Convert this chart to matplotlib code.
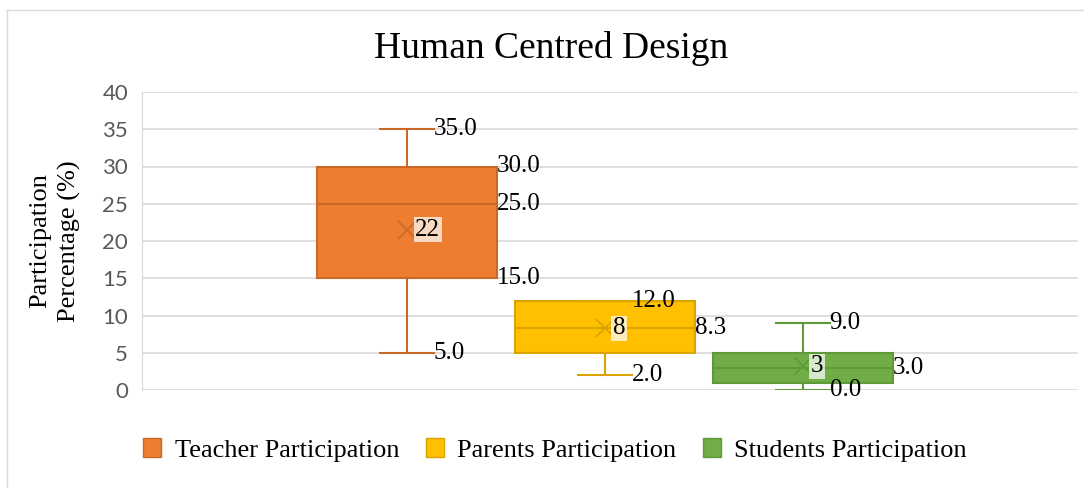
import matplotlib.pyplot as plt
from matplotlib.patches import Patch
from matplotlib.lines import Line2D

# box & whisker stats
groups = ['Teacher Participation', 'Parents Participation', 'Students Participation']
mins = [5.0, 2.0, 0.0]
q1s = [15.0, 5.0, 1.0]
medians = [25.0, 8.3, 3.0]
q3s = [30.0, 12.0, 5.0]
maxs = [35.0, 12.0, 9.0]
means = [21.5, 8.3, 3.2]
mean_labels = ['22', '8', '3']

face = ['#ED7D31', '#FFC000', '#70AD47']
edge = ['#C8692A', '#D9A300', '#5E9A3A']
label_bg = ['#FBE5D6', '#FFF2CC', '#E2F0D9']

serif = 'Liberation Serif'

fig = plt.figure(figsize=(10.84, 4.88), dpi=100)
ax = fig.add_axes([142 / 1084, 1 - 390 / 488, 936 / 1084, 298 / 488])

positions = [-1, 0, 1]
for i in range(3):
    st = [dict(med=medians[i], q1=q1s[i], q3=q3s[i], whislo=mins[i],
               whishi=maxs[i], mean=means[i], fliers=[], label=groups[i])]
    ax.bxp(st, positions=[positions[i]], widths=0.91, patch_artist=True,
           showmeans=False, manage_ticks=False,
           boxprops=dict(facecolor=face[i], edgecolor=edge[i], linewidth=1.5),
           medianprops=dict(color=edge[i], linewidth=1.5),
           whiskerprops=dict(color=edge[i], linewidth=1.5),
           capprops=dict(color=edge[i], linewidth=1.5),
           capwidths=0.27, zorder=3)
    ax.plot(positions[i], means[i], marker='x', markersize=13, mew=1.2,
            color=edge[i], zorder=4)
    ax.text(positions[i] + 0.04, means[i], mean_labels[i], fontsize=18,
            family=serif, va='center', ha='left', zorder=5,
            bbox=dict(facecolor=label_bg[i], edgecolor='none', pad=1, alpha=0.9))

lab = dict(fontsize=18, family=serif, va='center', ha='left', zorder=6)
cap_r = 0.135
box_r = 0.455
# teacher
ax.text(positions[0] + cap_r, maxs[0], f'{maxs[0]:.1f}', **lab)
ax.text(positions[0] + box_r, q3s[0], f'{q3s[0]:.1f}', **lab)
ax.text(positions[0] + box_r, medians[0], f'{medians[0]:.1f}', **lab)
ax.text(positions[0] + box_r, q1s[0], f'{q1s[0]:.1f}', **lab)
ax.text(positions[0] + cap_r, mins[0], f'{mins[0]:.1f}', **lab)
# parents
ax.text(positions[1] + cap_r, maxs[1], f'{maxs[1]:.1f}', **lab)
ax.text(positions[1] + box_r, medians[1], f'{medians[1]:.1f}', **lab)
ax.text(positions[1] + cap_r, mins[1], f'{mins[1]:.1f}', **lab)
# students
ax.text(positions[2] + cap_r, maxs[2], f'{maxs[2]:.1f}', **lab)
ax.text(positions[2] + box_r, medians[2], f'{medians[2]:.1f}', **lab)
ax.text(positions[2] + cap_r, mins[2], f'{mins[2]:.1f}', **lab)

ax.set_xlim(-2.34, 2.39)
ax.set_ylim(0, 40)
ax.set_yticks(range(0, 41, 5))
ax.set_xticks([])
ax.grid(axis='y', color='#D9D9D9', linewidth=1.2, zorder=0)
ax.set_axisbelow(True)
for s in ['top', 'right', 'bottom']:
    ax.spines[s].set_visible(False)
ax.spines['left'].set_color('#D9D9D9')
ax.tick_params(axis='y', length=0, pad=10, labelsize=16, labelcolor='#595959')
for t in ax.get_yticklabels():
    t.set_family('Lato')

fig.text(551 / 1084, 1 - 48 / 488, 'Human Centred Design', fontsize=27,
         family=serif, ha='center', va='center')
fig.text(55 / 1084, 1 - 241 / 488, 'Participation\nPercentage (%)', fontsize=19,
         family=serif, ha='center', va='center', rotation=90, linespacing=1.35)

handles = [Patch(facecolor=face[i], edgecolor=edge[i], label=groups[i]) for i in range(3)]
fig.legend(handles=handles, loc='center', bbox_to_anchor=(555 / 1084, 1 - 450 / 488),
           ncol=3, frameon=False, prop=dict(family=serif, size=19),
           handlelength=0.7, handleheight=0.7, handletextpad=0.5, columnspacing=1.0)

# chart area border (left and top)
fig.add_artist(Line2D([7 / 1084, 7 / 1084], [0, 1 - 10 / 488], color='#D9D9D9', lw=1))
fig.add_artist(Line2D([7 / 1084, 1], [1 - 10 / 488, 1 - 10 / 488], color='#D9D9D9', lw=1))

fig.savefig('out.png', dpi=100)
